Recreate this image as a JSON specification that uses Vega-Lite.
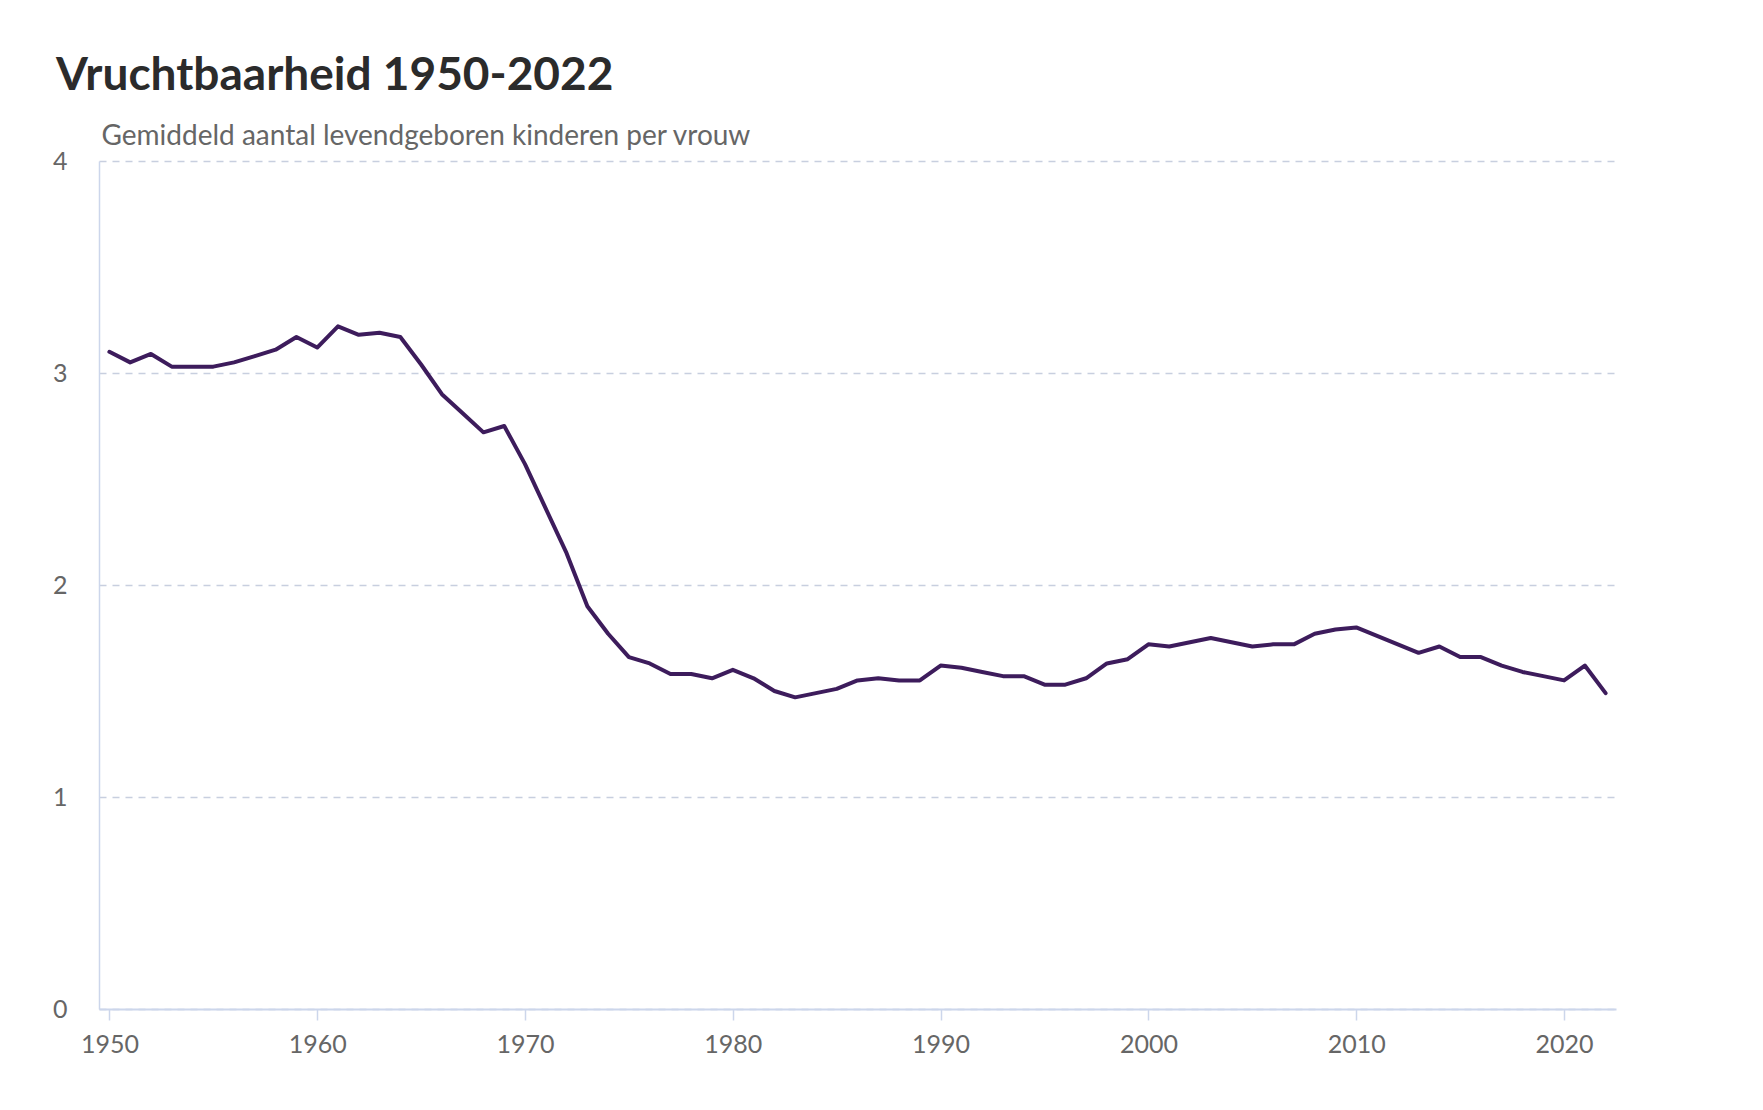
{
  "$schema": "https://vega.github.io/schema/vega-lite/v6.json",
  "width": 1517,
  "height": 848,
  "autosize": {"type": "none"},
  "padding": {"left": 99, "top": 161, "right": 147, "bottom": 101},
  "background": "white",
  "config": {
    "view": {"stroke": null},
    "font": "Lato"
  },
  "title": {
    "text": "Vruchtbaarheid 1950-2022",
    "anchor": "start",
    "frame": "group",
    "font": "Lato",
    "fontSize": 46,
    "fontWeight": "bold",
    "color": "#2b2b2b",
    "dx": -43,
    "offset": 22
  },
  "data": {
    "values": [
      {"jaar": 1950, "v": 3.10}, {"jaar": 1951, "v": 3.05}, {"jaar": 1952, "v": 3.09},
      {"jaar": 1953, "v": 3.03}, {"jaar": 1954, "v": 3.03}, {"jaar": 1955, "v": 3.03},
      {"jaar": 1956, "v": 3.05}, {"jaar": 1957, "v": 3.08}, {"jaar": 1958, "v": 3.11},
      {"jaar": 1959, "v": 3.17}, {"jaar": 1960, "v": 3.12}, {"jaar": 1961, "v": 3.22},
      {"jaar": 1962, "v": 3.18}, {"jaar": 1963, "v": 3.19}, {"jaar": 1964, "v": 3.17},
      {"jaar": 1965, "v": 3.04}, {"jaar": 1966, "v": 2.90}, {"jaar": 1967, "v": 2.81},
      {"jaar": 1968, "v": 2.72}, {"jaar": 1969, "v": 2.75}, {"jaar": 1970, "v": 2.57},
      {"jaar": 1971, "v": 2.36}, {"jaar": 1972, "v": 2.15}, {"jaar": 1973, "v": 1.90},
      {"jaar": 1974, "v": 1.77}, {"jaar": 1975, "v": 1.66}, {"jaar": 1976, "v": 1.63},
      {"jaar": 1977, "v": 1.58}, {"jaar": 1978, "v": 1.58}, {"jaar": 1979, "v": 1.56},
      {"jaar": 1980, "v": 1.60}, {"jaar": 1981, "v": 1.56}, {"jaar": 1982, "v": 1.50},
      {"jaar": 1983, "v": 1.47}, {"jaar": 1984, "v": 1.49}, {"jaar": 1985, "v": 1.51},
      {"jaar": 1986, "v": 1.55}, {"jaar": 1987, "v": 1.56}, {"jaar": 1988, "v": 1.55},
      {"jaar": 1989, "v": 1.55}, {"jaar": 1990, "v": 1.62}, {"jaar": 1991, "v": 1.61},
      {"jaar": 1992, "v": 1.59}, {"jaar": 1993, "v": 1.57}, {"jaar": 1994, "v": 1.57},
      {"jaar": 1995, "v": 1.53}, {"jaar": 1996, "v": 1.53}, {"jaar": 1997, "v": 1.56},
      {"jaar": 1998, "v": 1.63}, {"jaar": 1999, "v": 1.65}, {"jaar": 2000, "v": 1.72},
      {"jaar": 2001, "v": 1.71}, {"jaar": 2002, "v": 1.73}, {"jaar": 2003, "v": 1.75},
      {"jaar": 2004, "v": 1.73}, {"jaar": 2005, "v": 1.71}, {"jaar": 2006, "v": 1.72},
      {"jaar": 2007, "v": 1.72}, {"jaar": 2008, "v": 1.77}, {"jaar": 2009, "v": 1.79},
      {"jaar": 2010, "v": 1.80}, {"jaar": 2011, "v": 1.76}, {"jaar": 2012, "v": 1.72},
      {"jaar": 2013, "v": 1.68}, {"jaar": 2014, "v": 1.71}, {"jaar": 2015, "v": 1.66},
      {"jaar": 2016, "v": 1.66}, {"jaar": 2017, "v": 1.62}, {"jaar": 2018, "v": 1.59},
      {"jaar": 2019, "v": 1.57}, {"jaar": 2020, "v": 1.55}, {"jaar": 2021, "v": 1.62},
      {"jaar": 2022, "v": 1.49}
    ]
  },
  "mark": {"type": "line", "color": "#3d1c5c", "strokeWidth": 4, "strokeJoin": "round", "strokeCap": "round"},
  "encoding": {
    "x": {
      "field": "jaar",
      "type": "quantitative",
      "scale": {"domain": [1949.5, 2022.5], "nice": false, "zero": false},
      "axis": {
        "values": [1950, 1960, 1970, 1980, 1990, 2000, 2010, 2020],
        "format": "d",
        "title": null,
        "grid": false,
        "domainColor": "#ccd6eb",
        "domainWidth": 2,
        "tickColor": "#ccd6eb",
        "tickWidth": 1.5,
        "tickSize": 11,
        "labelPadding": 12,
        "labelFont": "Lato",
        "labelFontSize": 25,
        "labelColor": "#666666"
      }
    },
    "y": {
      "field": "v",
      "type": "quantitative",
      "scale": {"domain": [0, 4], "nice": false},
      "axis": {
        "values": [0, 1, 2, 3, 4],
        "title": "Gemiddeld aantal levendgeboren kinderen per vrouw",
        "titleAngle": 0,
        "titleAlign": "left",
        "titleBaseline": "alphabetic",
        "titleX": 2,
        "titleY": -17,
        "titleFont": "Lato",
        "titleFontSize": 28,
        "titleFontWeight": "normal",
        "titleColor": "#666666",
        "grid": true,
        "gridColor": "#c8cfdf",
        "gridDash": [7, 6],
        "gridWidth": 1.5,
        "domain": true,
        "domainColor": "#ccd6eb",
        "domainWidth": 1.5,
        "ticks": false,
        "labelPadding": 32,
        "labelFont": "Lato",
        "labelFontSize": 25,
        "labelColor": "#666666"
      }
    }
  }
}
